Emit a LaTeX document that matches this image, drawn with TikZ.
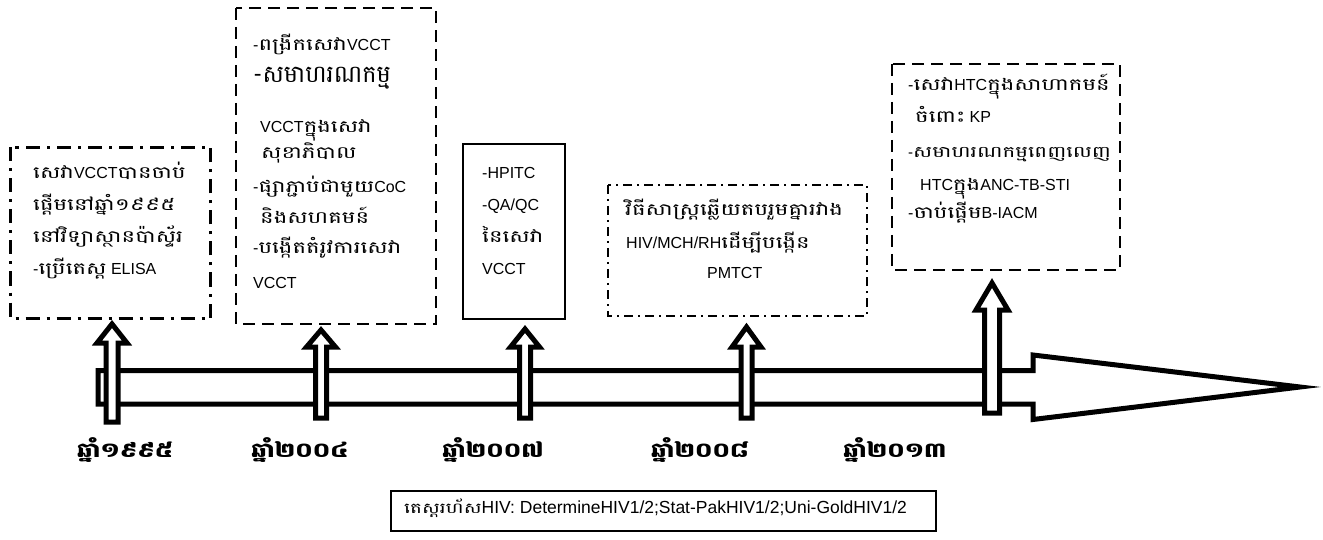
\documentclass[tikz,border=0pt]{standalone}
\usepackage{fontspec}
\setmainfont{Liberation Sans}
\newfontfamily\kmfont[Script=Khmer,Scale=1.05,FakeStretch=1.36]{Battambang}
\newfontfamily\kmyear[Script=Khmer,Scale=1.2,FakeStretch=1.21]{Battambang}
\newfontfamily\kmtall[Script=Khmer,Scale=1.45]{Battambang}
\newcommand\km[1]{{\kmfont #1}}
% up arrow: name, centre x, shaft half width, head half width, tip y, head base y, bottom y
\newcommand\uparrowshape[7]{%
  \draw[uparr] ({#2-#3},#7) -- ({#2-#3},#6) -- ({#2-#4},#6) -- (#2,#5)
    -- ({#2+#4},#6) -- ({#2+#3},#6) -- ({#2+#3},#7) -- cycle;
  \coordinate (#1) at (#2,#5);}
\begin{document}
\begin{tikzpicture}[x=1pt,y=-1pt,
  txt/.style={anchor=base west, inner sep=0pt, font=\fontsize{16}{19}\selectfont},
  yearlbl/.style={anchor=base, inner sep=0pt, font=\fontsize{17}{20}\selectfont\kmyear\bfseries},
  dashdotthick/.style={draw, line width=3.5pt, dash pattern=on 14pt off 7pt on 3pt off 7pt},
  dashdotthin/.style={draw, line width=2pt, dash pattern=on 9pt off 5pt on 2pt off 5pt},
  dashbox/.style={draw, line width=2.5pt, dash pattern=on 12pt off 7pt},
  solidbox/.style={draw, line width=2pt},
  uparr/.style={draw, line width=5pt, fill=white, miter limit=10},
  band/.style={draw, line width=5pt, fill=white, miter limit=12}]
\useasboundingbox (0,0) rectangle (1323,540);

% event boxes
\draw[dashdotthick] (10.5,147.5) rectangle (210.5,318.5);
\draw[dashbox] (236,8) rectangle (436,324);
\draw[solidbox] (463,144) rectangle (565,319);
\draw[dashdotthin] (608,185) rectangle (867,316);
\draw[dashbox] (892,64) rectangle (1120,270);
\node[draw, line width=1.5pt, minimum width=545pt, minimum height=40pt, inner sep=0pt] (tests) at (663.5,511) {};

% time line
\draw[band] (98,370.5) -- (1033,370.5) -- (1033,355) -- (1300,387) -- (1033,419.5)
  -- (1033,404) -- (98,404) -- cycle;

% year markers
\uparrowshape{a1995}{112}{6}{15}{324}{343}{422}
\uparrowshape{a2004}{321}{5.5}{14.5}{330}{347}{418}
\uparrowshape{a2007}{525}{5.5}{14.5}{329}{347}{418}
\uparrowshape{a2008}{746.5}{5.5}{14.5}{327}{347}{418}
\uparrowshape{a2013}{992}{7.5}{16}{283}{310}{413}

% box texts, 1995
\node[txt] (t11) at (33,179) {\km{សេវា}VCCT\km{បានចាប់}};
\node[txt] (t12) at (33,211) {\km{ផ្ដើមនៅឆ្នាំ១៩៩៥}};
\node[txt] (t13) at (33,243) {\km{នៅវិទ្យាស្ថានប៉ាស្ទ័រ}};
\node[txt] (t14) at (33,275) {-\km{ប្រើតេស្ត} ELISA};

% 2004
\node[txt] (t21) at (253,51) {-\km{ពង្រីកសេវា}VCCT};
\node[txt, font=\fontsize{16.5}{20}\selectfont\kmtall] (t22) at (253,83) {-សមាហរណកម្ម};
\node[txt] (t23) at (260,133) {VCCT\km{ក្នុងសេវា}};
\node[txt] (t24) at (261,159) {\km{សុខាភិបាល}};
\node[txt] (t25) at (253,193) {-\km{ផ្សាភ្ជាប់ជាមួយ}CoC};
\node[txt] (t26) at (260,224) {\km{និងសហគមន៍}};
\node[txt] (t27) at (253,254) {-\km{បង្កើតតំរូវការសេវា}};
\node[txt] (t28) at (253,288) {VCCT};

% 2007
\node[txt] (t31) at (482,179) {-HPITC};
\node[txt] (t32) at (482,211) {-QA/QC};
\node[txt] (t33) at (482,243) {\km{នៃសេវា}};
\node[txt] (t34) at (482,275) {VCCT};

% 2008
\node[txt] (t41) at (625,216) {\km{វិធីសាស្ត្រឆ្លើយតបរួមគ្នារវាង}};
\node[txt] (t42) at (626,248) {HIV/MCH/RH\km{ដើម្បីបង្កើន}};
\node[txt] (t43) at (707,279) {PMTCT};

% 2013
\node[txt] (t51) at (908,91) {-\km{សេវា}HTC\km{ក្នុងសាហាកមន៍}};
\node[txt] (t52) at (915,123) {\km{ចំពោះ} KP};
\node[txt, font=\fontsize{15}{18}\selectfont] (t53) at (908,158) {-\km{សមាហរណកម្មពេញលេញ}};
\node[txt] (t54) at (920,191) {HTC\km{ក្នុង}ANC-TB-STI};
\node[txt] (t55) at (908,219) {-\km{ចាប់ផ្ដើម}B-IACM};

% rapid tests
\node[txt, font=\fontsize{17.5}{21}\selectfont] (t6) at (404,513)
  {{\fontsize{14}{16}\selectfont\km{តេស្តរហ័ស}}HIV: DetermineHIV1/2;Stat-PakHIV1/2;Uni-GoldHIV1/2};

% years
\node[yearlbl] (y1995) at (125,457) {ឆ្នាំ១៩៩៥};
\node[yearlbl] (y2004) at (300,457) {ឆ្នាំ២០០៤};
\node[yearlbl] (y2007) at (493,457) {ឆ្នាំ២០០៧};
\node[yearlbl] (y2008) at (700,457) {ឆ្នាំ២០០៨};
\node[yearlbl] (y2013) at (895,457) {ឆ្នាំ២០១៣};
\end{tikzpicture}
\end{document}
